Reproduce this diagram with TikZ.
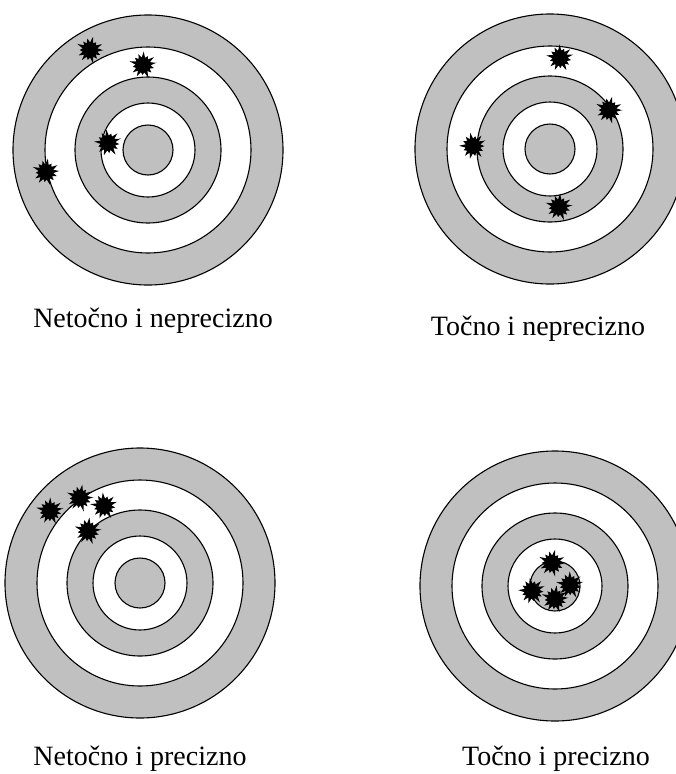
\documentclass[tikz,border=0pt]{standalone}
\usepackage{fontspec}
\setmainfont{Liberation Serif}
\definecolor{ringgray}{RGB}{192,192,192}
\tikzset{
  ring/.style={draw=black, line width=1.1pt},
  lbl/.style={anchor=base, inner sep=0pt, font=\fontsize{28}{34}\selectfont},
}
\newcommand\mytarget[2]{%
  \filldraw[ring, fill=ringgray] (#1,#2) circle[radius=135pt];
  \filldraw[ring, fill=white] (#1,#2) circle[radius=103pt];
  \filldraw[ring, fill=ringgray] (#1,#2) circle[radius=73pt];
  \filldraw[ring, fill=white] (#1,#2) circle[radius=47pt];
  \filldraw[ring, fill=ringgray] (#1,#2) circle[radius=25pt];
}
\newcommand\myshot[3]{%
  \fill[black, shift={(#1,#2)}, rotate=#3]
    (0:12.5pt)
    \foreach \i in {0,...,13} {
      -- ({\i*360/14+12.86}:{7.5pt})
      -- ({(\i+1)*360/14}:{12pt+2pt*sin((\i+1)*137)})
    } -- cycle;
}
\begin{document}
\begin{tikzpicture}[x=1pt, y=-1pt]
\useasboundingbox (0,0) rectangle (676,774);
\clip (0,0) rectangle (676,774);
\mytarget{148}{150}
\mytarget{550}{149}
\mytarget{140}{583}
\mytarget{555}{586}
% shots
\myshot{90}{50}{0}
\myshot{143}{65}{10}
\myshot{108}{143}{20}
\myshot{46}{172}{5}
\myshot{560}{58}{15}
\myshot{609}{110}{0}
\myshot{473}{146}{25}
\myshot{559}{207}{8}
\myshot{50}{511}{12}
\myshot{80}{498}{3}
\myshot{104}{506}{18}
\myshot{88}{531}{7}
\myshot{552}{563}{0}
\myshot{570}{585}{14}
\myshot{532}{591}{22}
\myshot{555}{599}{6}
% labels
\node[lbl] (l1) at (153,327) {Netočno i neprecizno};
\node[lbl] (l2) at (538,335) {Točno i neprecizno};
\node[lbl] (l3) at (140,765) {Netočno i precizno};
\node[lbl] (l4) at (556,765) {Točno i precizno};
\end{tikzpicture}
\end{document}
